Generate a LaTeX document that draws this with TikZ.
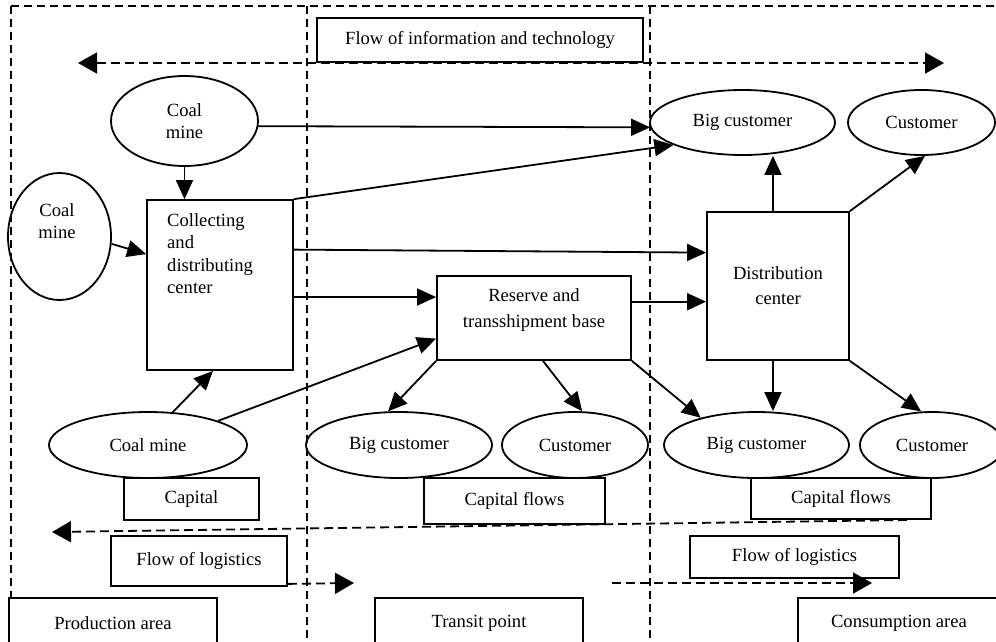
\documentclass[tikz,border=0pt]{standalone}
\usepackage{fontspec}
\setmainfont{Liberation Serif}
\usetikzlibrary{arrows.meta,shapes.geometric,calc}
\begin{document}
\begin{tikzpicture}[x=1pt,y=-1pt,
  every node/.style={font=\fontsize{18.6}{22}\selectfont, inner sep=0pt},
  box/.style={draw, line width=1.8pt, rectangle},
  ell/.style={draw, line width=1.8pt, ellipse},
  arr/.style={line width=1.8pt, -{Triangle[length=19pt,width=17pt]}},
  darr/.style={line width=1.8pt, dash pattern=on 9pt off 5pt, -{Triangle[length=19pt,width=21pt]}},
  ddarr/.style={line width=1.8pt, dash pattern=on 9pt off 5pt, {Triangle[length=19pt,width=21pt]}-{Triangle[length=19pt,width=21pt]}},
  zone/.style={line width=1.8pt, dash pattern=on 8pt off 5pt}]
\useasboundingbox (0,0) rectangle (996,641);
\clip (0,0) rectangle (996,641);

% zone borders
\draw[zone] (11,6) -- (996,6);
\draw[zone] (11,6) -- (11,598);
\draw[zone] (307,6) -- (307,641);
\draw[zone] (650,6) -- (650,641);

% nodes
\node[box, minimum width=326pt, minimum height=44pt] (info) at (480,40) {Flow of information and technology};
\node[ell, minimum width=147pt, minimum height=90pt, align=center] (cm1) at (184.5,121) {Coal\\mine};
\node[ell, minimum width=103pt, minimum height=127pt] (cml) at (59.5,236.5) {};
\node[align=center] (cmltxt) at (57,221) {Coal\\mine};
\node[box, minimum width=146pt, minimum height=170pt] (cdc) at (220,285) {};
\node[align=left, anchor=north west, font=\fontsize{18.6}{22.5}\selectfont] (cdctxt) at (167,213) {Collecting\\and\\distributing\\center};
\node[ell, minimum width=185pt, minimum height=65pt] (bc1) at (742.5,122.5) {Big customer};
\node[ell, minimum width=147pt, minimum height=65pt] (cu1) at (921.5,122.5) {Customer};
\node[box, minimum width=142pt, minimum height=148pt, align=center] (dc) at (778,286) {Distribution\\[3pt]center};
\node[box, minimum width=194pt, minimum height=84pt] (rtb) at (534,318) {};
\node[align=center] (rtbtxt) at (534,310) {Reserve and\\[4pt]transshipment base};
\node[ell, minimum width=198pt, minimum height=66pt] (cmb) at (148,445) {Coal mine};
\node[box, minimum width=135pt, minimum height=42pt] (cap) at (191.5,499) {Capital};
\node[ell, minimum width=186pt, minimum height=66pt] (bcm) at (399,445) {Big customer};
\node[ell, minimum width=146pt, minimum height=66pt] (cum) at (575,445) {Customer};
\node[ell, minimum width=185pt, minimum height=66pt] (bcr) at (756.5,445) {Big customer};
\node[ell, minimum width=144pt, minimum height=66pt] (cur) at (932,445) {Customer};
\node[box, minimum width=181pt, minimum height=46pt] (cf1) at (514.5,501) {Capital flows};
\node[box, minimum width=180pt, minimum height=41pt] (cf2) at (841,498.5) {Capital flows};
\node[box, minimum width=176pt, minimum height=50pt] (fl1) at (199,561) {Flow of logistics};
\node[box, minimum width=209pt, minimum height=42pt] (fl2) at (794.5,557) {Flow of logistics};
\node[box, minimum width=208pt, minimum height=50pt] (pa) at (113,623) {Production area};
\node[box, minimum width=208pt, minimum height=50pt] (tp) at (479,623) {Transit point};
\node[box, minimum width=202pt, minimum height=50pt] (ca) at (899,623) {Consumption area};

% dashed flow arrows
\coordinate (iL) at (78,63);
\coordinate (iR) at (944,63);
\draw[ddarr] (iL) -- (iR);
\coordinate (lR) at (907,520);
\coordinate (lL) at (52,532);
\draw[darr] (lR) -- (lL);
\coordinate (t1) at (354,583);
\draw[darr] ($(fl1.south east)+(0,-3)$) -- (t1);
\coordinate (t2s) at (612,583);
\coordinate (t2e) at (872,583);
\draw[darr] (t2s) -- (t2e);

% solid connectors
\draw[arr] (cm1.-4) -- (bc1.183);
\draw[arr] (cm1.south) -- (cm1.south |- cdc.north);
\draw[arr] (cml.-8) -- ($(cdc.north west)!0.32!(cdc.south west)$);
\draw[arr] (cdc.north east) -- (bc1.198);
\coordinate (dcN) at ($(dc.north west)!0.465!(dc.north east)$);
\draw[arr] (dcN) -- (dcN |- bc1.south);
\draw[arr] (dc.north east) -- (cu1.-84);
\draw[arr] ($(cdc.north east)!0.294!(cdc.south east)$) -- ($(dc.north west)!0.277!(dc.south west)$);
\coordinate (c1) at ($(cdc.north east)!0.57!(cdc.south east)$);
\draw[arr] (c1) -- (c1 -| rtb.west);
\coordinate (r1) at ($(rtb.north east)!0.31!(rtb.south east)$);
\draw[arr] (r1) -- (r1 -| dc.west);
\draw[arr] (cmb.19) -- ($(rtb.north west)!0.74!(rtb.south west)$);
\draw[arr] (cmb.53) -- ($(cdc.south west)!0.452!(cdc.south east)$);
\draw[arr] (rtb.south west) -- (bcm.108);
\draw[arr] ($(rtb.south west)!0.546!(rtb.south east)$) -- (cum.78);
\draw[arr] (rtb.south east) -- (bcr.154);
\coordinate (dcS) at ($(dc.south west)!0.465!(dc.south east)$);
\draw[arr] (dcS) -- (dcS |- bcr.north);
\draw[arr] (dc.south east) -- (cur.108);
\end{tikzpicture}
\end{document}
